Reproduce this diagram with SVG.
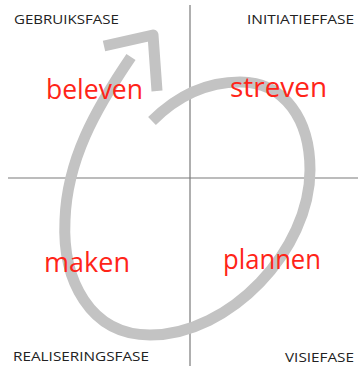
<svg xmlns="http://www.w3.org/2000/svg" width="358" height="366" viewBox="0 0 358 366">
<style>
.axis{stroke:#7a7a7a;stroke-width:1.2;fill:none}
.spiral{stroke:#c3c3c3;stroke-width:11;fill:none;stroke-linejoin:round}
.phase{font-family:"Open Sans","Liberation Sans",sans-serif;font-size:13.5px;fill:#222}
.verb{font-family:"Open Sans","Liberation Sans",sans-serif;font-size:27px;fill:#ff2418}
</style>
<rect width="358" height="366" fill="#fff"/>
<g id="connectors">
<line class="axis" x1="190" y1="5" x2="190" y2="366"/>
<line class="axis" x1="8" y1="178" x2="358" y2="178"/>
<path class="spiral" d="M152,121 C175,98 205,82 240,82 C285,82 310,120 310,170 C310,250 230,335 150,335 C90,335 62,280 65,220 C67,160 95,110 131,57"/>
<polyline class="spiral" stroke-width="9.5" points="104,46 153,35 157,91"/>
</g>
<g id="gebruiksfase"><text class="phase" x="14" y="24" textLength="105" lengthAdjust="spacingAndGlyphs">GEBRUIKSFASE</text></g>
<g id="initiatieffase"><text class="phase" x="247" y="24" textLength="107" lengthAdjust="spacingAndGlyphs">INITIATIEFFASE</text></g>
<g id="realiseringsfase"><text class="phase" x="13" y="361" textLength="136" lengthAdjust="spacingAndGlyphs">REALISERINGSFASE</text></g>
<g id="visiefase"><text class="phase" x="285" y="362" textLength="69" lengthAdjust="spacingAndGlyphs">VISIEFASE</text></g>
<g id="beleven"><text class="verb" x="46" y="99" textLength="97" lengthAdjust="spacingAndGlyphs">beleven</text></g>
<g id="streven"><text class="verb" x="230" y="97" textLength="97" lengthAdjust="spacingAndGlyphs">streven</text></g>
<g id="maken"><text class="verb" x="44" y="272" textLength="86" lengthAdjust="spacingAndGlyphs">maken</text></g>
<g id="plannen"><text class="verb" x="223" y="269" textLength="98" lengthAdjust="spacingAndGlyphs">plannen</text></g>
</svg>
